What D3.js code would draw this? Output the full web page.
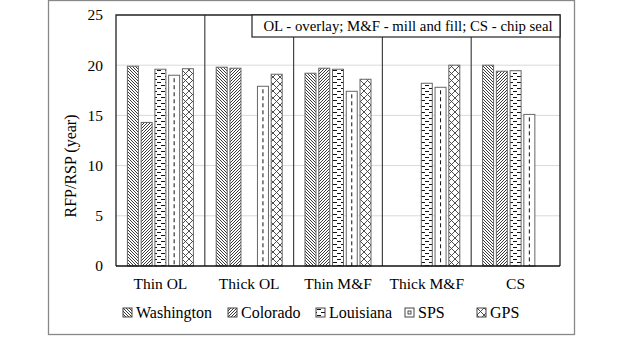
<!DOCTYPE html>
<html><head><meta charset="utf-8">
<script src="https://cdn.jsdelivr.net/npm/d3@7"></script>
<style>body{margin:0;background:#fff}svg{display:block}text{font-family:"Liberation Serif","Times New Roman",serif;fill:#000}</style>
</head><body>
<script>
const categories = ["Thin OL","Thick OL","Thin M&F","Thick M&F","CS"];
const seriesNames = ["Washington","Colorado","Louisiana","SPS","GPS"];
const washington = [19.9, 19.8, 19.2, null, 20.0];
const colorado   = [14.3, 19.7, 19.7, null, 19.4];
const louisiana  = [19.6, null, 19.6, 18.2, 19.45];
const sps        = [19.0, 17.9, 17.4, 17.8, 15.1];
const gps        = [19.65, 19.1, 18.6, 20.0, null];
const yTicks = [0,5,10,15,20,25];
const note = "OL - overlay; M&F - mill and fill; CS - chip seal";
const yTitle = "RFP/RSP (year)";

const values = [washington, colorado, louisiana, sps, gps];
const W=624,H=338;
const svg=d3.select("body").append("svg").attr("width",W).attr("height",H);
const defs=svg.append("defs");
function pat(id,w,h,draw){const p=defs.append("pattern").attr("id",id).attr("patternUnits","userSpaceOnUse").attr("width",w).attr("height",h);p.append("rect").attr("width",w).attr("height",h).attr("fill","#fff");draw(p);}
pat("p0",3,3,p=>{p.append("path").attr("d","M-1,-1 L4,4 M-1,2 L1,4 M2,-1 L4,1").attr("stroke","#222").attr("stroke-width",0.9);});
pat("p1",3,3,p=>{p.append("path").attr("d","M-1,4 L4,-1 M-1,1 L1,-1 M2,4 L4,2").attr("stroke","#222").attr("stroke-width",0.9);});
pat("p2",8,6,p=>{p.append("path").attr("d","M1,1.5 H5 M5,4.5 H9 M-3,4.5 H1").attr("stroke","#111").attr("stroke-width",1.1);});
pat("p3",8,8,p=>{});
pat("p4",7,7,p=>{p.append("path").attr("d","M0,0 L3.5,3.5 L0,7 M7,0 L3.5,3.5 L7,7").attr("stroke","#222").attr("stroke-width",0.8).attr("fill","none");});

const L=116,R=560,T=15,B=266;
const x0=d3.scaleBand().domain(categories).range([L,R]);
const half=33;
const x1=d3.scaleBand().domain(seriesNames).range([x0.bandwidth()/2-half,x0.bandwidth()/2+half]).paddingInner(0.2);
const y=d3.scaleLinear().domain([0,25]).range([B,T]);

svg.append("rect").attr("x",48.5).attr("y",0.5).attr("width",526).attr("height",334).attr("fill","none").attr("stroke","#888").attr("stroke-width",1.3);

svg.append("g").selectAll("line").data(yTicks.filter(d=>d>0&&d<25)).join("line")
 .attr("x1",L).attr("x2",R).attr("y1",d=>y(d)).attr("y2",d=>y(d)).attr("stroke","#d9d9d9").attr("stroke-width",1);

seriesNames.forEach((s,si)=>{
  const g=svg.append("g");
  const data=categories.map((c,ci)=>({c,v:values[si][ci]})).filter(d=>d.v!=null);
  g.selectAll("rect").data(data).join("rect")
   .attr("x",d=>x0(d.c)+x1(s)).attr("width",x1.bandwidth())
   .attr("y",d=>y(d.v)).attr("height",d=>B-y(d.v))
   .attr("fill",`url(#p${si})`).attr("stroke","#666").attr("stroke-width",1);
  if(si===3){
    g.selectAll("line").data(data).join("line")
     .attr("x1",d=>x0(d.c)+x1(s)+x1.bandwidth()/2).attr("x2",d=>x0(d.c)+x1(s)+x1.bandwidth()/2)
     .attr("y1",d=>y(d.v)+3).attr("y2",B).attr("stroke","#111").attr("stroke-width",1).attr("stroke-dasharray","4,3");
  }
});

svg.append("g").selectAll("line").data(categories.slice(1)).join("line")
 .attr("x1",d=>x0(d)).attr("x2",d=>x0(d)).attr("y1",T).attr("y2",B).attr("stroke","#444").attr("stroke-width",1.2);
svg.append("path").attr("d",`M${L},${B} V${T} H${R} V${B}`).attr("fill","none").attr("stroke","#222").attr("stroke-width",1.3);
svg.append("line").attr("x1",L).attr("x2",R).attr("y1",B).attr("y2",B).attr("stroke","#111").attr("stroke-width",1.6);

const ya=d3.axisLeft(y).tickValues(yTicks).tickSize(0).tickPadding(13);
const yg=svg.append("g").attr("transform",`translate(${L},0)`).call(ya);
yg.select(".domain").remove();
yg.selectAll("text").style("font-size","15.5px").style("font-family","Liberation Serif");

const xa=d3.axisBottom(x0).tickSize(0).tickPadding(12);
const xg=svg.append("g").attr("transform",`translate(0,${B})`).call(xa);
xg.select(".domain").remove();
xg.selectAll("text").style("font-size","15.5px").style("font-family","Liberation Serif");

svg.append("text").attr("transform","translate(76,166) rotate(-90)").attr("text-anchor","middle").style("font-size","16px").text(yTitle);

svg.append("rect").attr("x",252).attr("y",T).attr("width",R-252).attr("height",22).attr("fill","#fff").attr("stroke","#222").attr("stroke-width",1.2);
svg.append("text").attr("x",(252+R)/2+2).attr("y",31).attr("text-anchor","middle").style("font-size","14.8px").text(note);

const legX=[123,228,316,405,477];
const lg=svg.append("g");
seriesNames.forEach((s,i)=>{
  const g=lg.append("g").attr("transform",`translate(${legX[i]},308)`);
  g.append("rect").attr("width",9).attr("height",9).attr("fill",`url(#p${i})`).attr("stroke","#444").attr("stroke-width",1);
  if(i===3) g.append("rect").attr("x",3).attr("y",3).attr("width",3).attr("height",3).attr("fill","none").attr("stroke","#222").attr("stroke-width",0.8);
  g.append("text").attr("x",13).attr("y",10).style("font-size","16px").text(s);
});
</script>
</body></html>
